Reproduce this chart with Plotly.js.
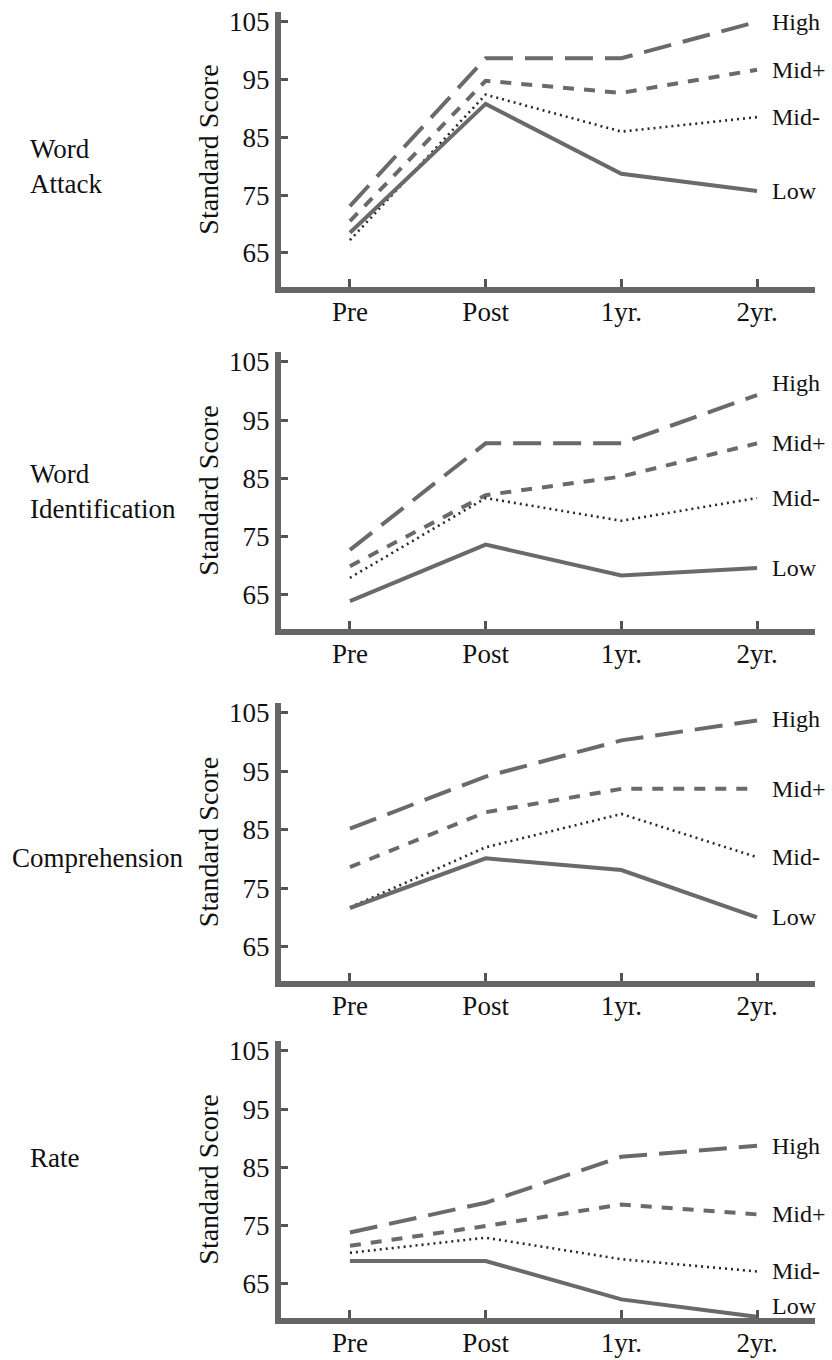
<!DOCTYPE html>
<html><head><meta charset="utf-8">
<script src="https://cdn.plot.ly/plotly-3.0.1.min.js"></script>
<style>html,body{margin:0;padding:0;background:#fff}</style>
</head><body><div id="chart" style="width:832px;height:1360px"></div>
<script>
const timepoints = ["Pre", "Post", "1yr.", "2yr."];
const groups = ["High", "Mid+", "Mid-", "Low"];
const panelNames = ["Word<br>Attack", "Word<br>Identification", "Comprehension", "Rate"];
const yTickValues = [65, 75, 85, 95, 105];

// Word Attack
const wordAttackHigh     = [73.1, 98.7, 98.7, 105.0];
const wordAttackMidPlus  = [70.5, 94.8, 92.7, 96.7];
const wordAttackMidMinus = [67.2, 92.4, 86.0, 88.5];
const wordAttackLow      = [68.5, 90.8, 78.7, 75.7];
// Word Identification
const wordIdHigh     = [72.7, 91.0, 91.0, 99.3];
const wordIdMidPlus  = [69.9, 82.1, 85.3, 91.0];
const wordIdMidMinus = [67.9, 81.6, 77.7, 81.6];
const wordIdLow      = [63.9, 73.6, 68.3, 69.6];
// Comprehension
const compHigh     = [85.2, 94.1, 100.3, 103.7];
const compMidPlus  = [78.6, 88.0, 92.0, 92.0];
const compMidMinus = [71.7, 82.0, 87.7, 80.3];
const compLow      = [71.6, 80.1, 78.1, 70.0];
// Rate
const rateHigh     = [73.8, 78.9, 86.8, 88.7];
const rateMidPlus  = [71.5, 74.9, 78.6, 76.9];
const rateMidMinus = [70.3, 72.9, 69.2, 67.1];
const rateLow      = [68.9, 68.9, 62.3, 59.3];

const panels = [
  [wordAttackHigh, wordAttackMidPlus, wordAttackMidMinus, wordAttackLow],
  [wordIdHigh, wordIdMidPlus, wordIdMidMinus, wordIdLow],
  [compHigh, compMidPlus, compMidMinus, compLow],
  [rateHigh, rateMidPlus, rateMidMinus, rateLow]
];

const FONT = '"Liberation Serif", serif';
const lineStyles = [
  {color: "#6a6a6a", width: 4, dash: "28px,12px"},
  {color: "#6a6a6a", width: 4, dash: "11px,10px"},
  {color: "#2a2a2a", width: 2.6, dash: "2px,4px"},
  {color: "#6a6a6a", width: 4, dash: "solid"}
];

// panel vertical extents in px (top, bottom)
const H = 1360, W = 832;
const panelPx = [[12, 287], [352, 629], [703, 981], [1041, 1318]];
const xDomain = [281 / W, 815 / W];
const labelYShift = [[0, 0, 0, 0], [12, 0, 0, 0], [2, 0, 0, 0], [0, 0, 0, 11]];
const rowLabelY = [80, 82.7, 80.1, 86.6];
const rowLabelX = [28, 28, 10, 28];

const data = [];
const layout = {
  width: W, height: H,
  margin: {l: 0, r: 0, t: 0, b: 0},
  paper_bgcolor: "#fff", plot_bgcolor: "#fff",
  showlegend: false,
  font: {family: FONT, color: "#111", size: 26},
  annotations: []
};

panels.forEach((series, p) => {
  const k = p === 0 ? "" : String(p + 1);
  series.forEach((vals, g) => {
    data.push({
      type: "scatter", mode: "lines",
      x: timepoints, y: vals,
      xaxis: "x" + k, yaxis: "y" + k,
      line: lineStyles[g],
      hoverinfo: "skip"
    });
    layout.annotations.push({
      xref: "x" + k, yref: "y" + k,
      x: timepoints[3], y: vals[3],
      text: groups[g], showarrow: false,
      xanchor: "left", yanchor: "middle",
      xshift: 13, yshift: labelYShift[p][g],
      font: {family: FONT, size: 24, color: "#111"}
    });
  });
  const top = panelPx[p][0], bot = panelPx[p][1];
  layout["xaxis" + k] = {
    domain: xDomain, anchor: "y" + k,
    type: "category", categoryorder: "array", categoryarray: timepoints,
    range: [-0.508, 3.427],
    showline: true, linewidth: 6, linecolor: "#666",
    ticks: "inside", ticklen: 8, tickwidth: 3, tickcolor: "#555",
    showgrid: false, zeroline: false,
    tickfont: {family: FONT, size: 27, color: "#111"},
    ticklabelstandoff: -4,
    fixedrange: true
  };
  layout["yaxis" + k] = {
    domain: [1 - bot / H, 1 - top / H], anchor: "x" + k,
    range: [59.1, 106.7],
    tickvals: yTickValues,
    showline: true, linewidth: 6, linecolor: "#666",
    ticks: "inside", ticklen: 7, tickwidth: 3, tickcolor: "#555",
    showgrid: false, zeroline: false,
    tickfont: {family: FONT, size: 27, color: "#111"},
    title: {text: "Standard Score", font: {family: FONT, size: 28, color: "#111"}, standoff: 4},
    fixedrange: true
  };
  layout.annotations.push({
    xref: "paper", yref: "y" + k,
    x: rowLabelX[p] / W, y: rowLabelY[p],
    text: panelNames[p], showarrow: false,
    xanchor: "left", yanchor: "middle", align: "left",
    font: {family: FONT, size: 27, color: "#111"}
  });
});

Plotly.newPlot("chart", data, layout, {displayModeBar: false, staticPlot: true});
</script>
</body></html>
